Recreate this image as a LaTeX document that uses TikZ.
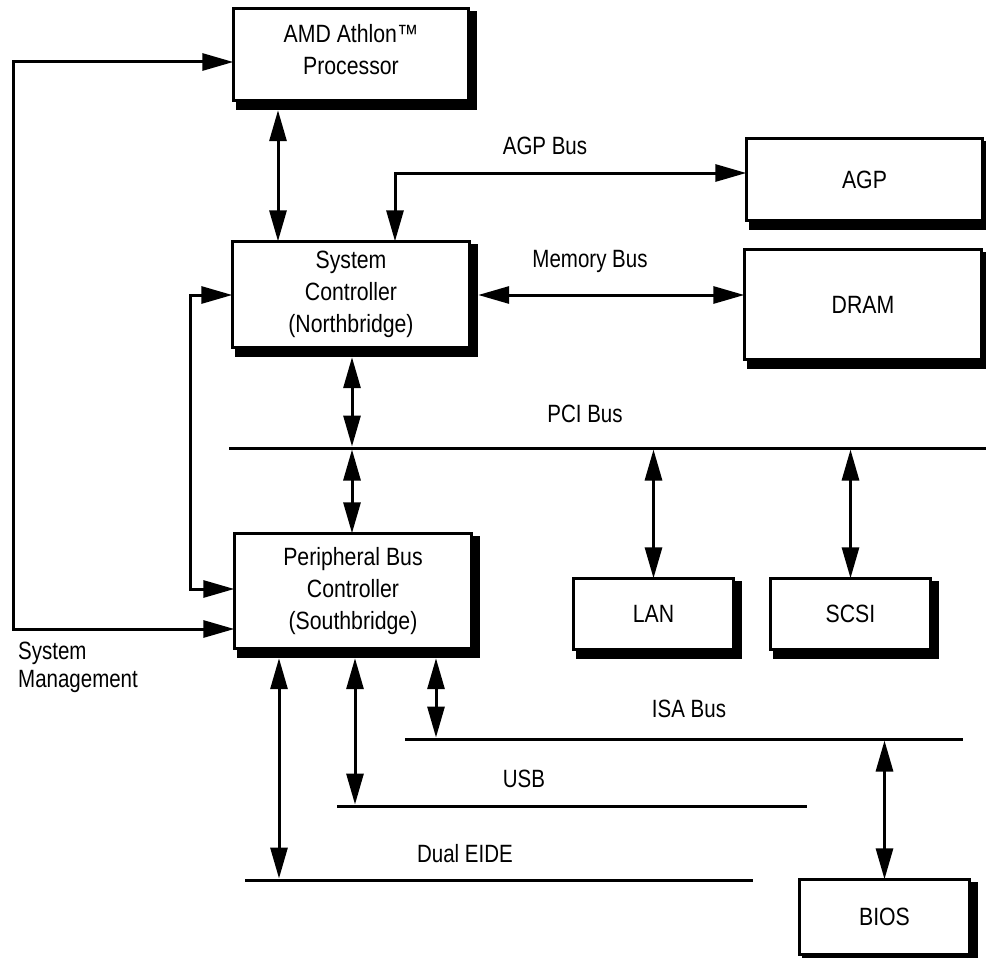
\documentclass[tikz,border=0pt]{standalone}
\usepackage{fontspec}
\setmainfont[FakeStretch=0.82]{Liberation Sans}
\newfontfamily\boxfont[FakeStretch=0.85]{Liberation Sans}
\usetikzlibrary{arrows.meta,calc}
\pgfdeclarelayer{bg}
\pgfsetlayers{bg,main}
\begin{document}
\begin{tikzpicture}[x=1pt,y=-1pt,
  box/.style={draw, fill=white, line width=2.6pt, inner sep=0pt, outer sep=0pt,
    align=center, font=\boxfont\fontsize{25}{32}\selectfont},
  lbl/.style={font=\fontsize{25}{28}\selectfont, inner sep=0pt, anchor=base},
  conn/.style={line width=3pt, {Triangle[length=31pt,width=17pt]}-{Triangle[length=31pt,width=17pt]}},
  bus/.style={line width=3pt}]
\useasboundingbox (0,0) rectangle (986,958);

% boxes
\node[box, minimum width=235.4pt, minimum height=92.4pt] (proc) at (351,54.5) {AMD Athlon™\\Processor\\[-22pt]};
\node[box, minimum width=237.4pt, minimum height=106.4pt] (nb) at (351,294.5) {System\\Controller\\(Northbridge)};
\node[box, minimum width=236.4pt, minimum height=82.4pt] (agp) at (864.5,179.5) {AGP};
\node[box, minimum width=237.4pt, minimum height=110.4pt] (dram) at (863,304.5) {DRAM};
\node[box, minimum width=237.4pt, minimum height=115.4pt] (sb) at (353,591) {Peripheral Bus\\Controller\\(Southbridge)};
\node[box, minimum width=160.4pt, minimum height=71.4pt] (lan) at (653.5,614) {LAN};
\node[box, minimum width=160.4pt, minimum height=71.4pt] (scsi) at (850.5,614) {SCSI};
\node[box, minimum width=170.4pt, minimum height=75.4pt] (bios) at (884.5,917) {BIOS};

\begin{pgfonlayer}{bg}
\foreach \n in {proc,nb,agp,dram,sb,lan,scsi,bios}
  \fill ($(\n.north west)+(3,3)$) rectangle ($(\n.south east)+(8.5,9.5)$);
\end{pgfonlayer}

% bus lines
\coordinate (pciL) at (229,448); \coordinate (pciR) at (986,448);
\coordinate (isaL) at (405,739); \coordinate (isaR) at (963,739);
\coordinate (usbL) at (337,806); \coordinate (usbR) at (807,806);
\coordinate (ideL) at (245,880); \coordinate (ideR) at (753,880);
\draw[bus] (pciL) -- (pciR);
\draw[bus] (isaL) -- (isaR);
\draw[bus] (usbL) -- (usbR);
\draw[bus] (ideL) -- (ideR);

% helper coordinates
\coordinate (smA) at (13,62); \coordinate (smB) at (13,629);
\coordinate (nsA) at (190,295); \coordinate (nsB) at (190,589);
\coordinate (c278) at (278,0);
\coordinate (agpK) at (395,173);
\coordinate (memY) at (0,295);
\coordinate (c352) at (352,0);
\coordinate (c279) at (279,0);
\coordinate (c355) at (355,0);
\coordinate (c436) at (436,0);

% connectors
\draw[conn] (proc.west |- smA) -- (smA) -- (smB) -- (sb.west |- smB);
\draw[conn] (nb.west |- nsA) -- (nsA) -- (nsB) -- (sb.west |- nsB);
\draw[conn] ($(proc.south -| c278)+(0,9.5)$) -- (nb.north -| c278);
\draw[conn] (nb.north -| agpK) -- (agpK) -- (agp.west |- agpK);
\draw[conn] ($(nb.east |- memY)+(8.5,0)$) -- (dram.west |- memY);
\draw[conn] ($(nb.south -| c352)+(0,9.5)$) -- ($(pciL -| c352)+(0,-1.5)$);
\draw[conn] ($(pciL -| c352)+(0,1.5)$) -- (sb.north -| c352);
\draw[conn] ($(pciL -| lan.north)+(0,1.5)$) -- (lan.north);
\draw[conn] ($(pciL -| scsi.north)+(0,1.5)$) -- (scsi.north);
\draw[conn] ($(sb.south -| c279)+(0,9.5)$) -- ($(ideL -| c279)+(0,-1.5)$);
\draw[conn] ($(sb.south -| c355)+(0,9.5)$) -- ($(usbL -| c355)+(0,-1.5)$);
\draw[conn] ($(sb.south -| c436)+(0,9.5)$) -- ($(isaL -| c436)+(0,-1.5)$);
\draw[conn] ($(isaL -| bios.north)+(0,1.5)$) -- (bios.north);

% labels
\node[lbl] (lagp) at (545,154) {AGP Bus};
\node[lbl] (lmem) at (590,267) {Memory Bus};
\node[lbl] (lpci) at (585,422) {PCI Bus};
\node[lbl] (lisa) at (689,717) {ISA Bus};
\node[lbl] (lusb) at (524,787) {USB};
\node[lbl] (lide) at (465,862) {Dual EIDE};
\node[lbl, anchor=base west] (lsys) at (18,659) {System};
\node[lbl, anchor=base west] (lman) at (18,687) {Management};
\end{tikzpicture}
\end{document}
